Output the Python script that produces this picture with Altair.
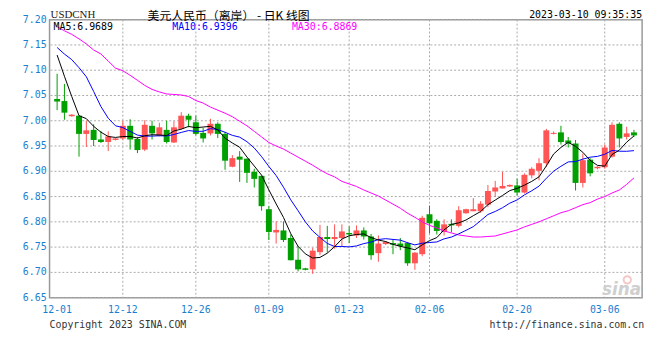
import altair as alt
import pandas as pd
import numpy as np

# ---- data ----
tick_labels = ["12-01", "12-12", "12-26", "01-09", "01-23", "02-06", "02-20", "03-06"]
tick_index = [0, 9, 19, 29, 40, 51, 63, 75]

opens = [7.043, 7.039, 7.009, 7.010, 6.974, 6.982, 6.963, 6.958, 6.962, 6.965,
         6.990, 6.964, 6.943, 6.990, 6.971, 6.982, 6.957, 6.984, 7.010, 6.997,
         6.976, 6.975, 6.994, 6.974, 6.909, 6.929, 6.925, 6.899, 6.891, 6.825,
         6.779, 6.783, 6.768, 6.725, 6.708, 6.706, 6.740, 6.770, 6.766, 6.768,
         6.778, 6.773, 6.783, 6.771, 6.738, 6.756, 6.758, 6.757, 6.758, 6.718,
         6.736, 6.815, 6.802, 6.780, 6.796, 6.792, 6.817, 6.821, 6.821, 6.834,
         6.860, 6.866, 6.870, 6.872, 6.858, 6.892, 6.901, 6.916, 6.974, 6.977,
         6.961, 6.955, 6.877, 6.923, 6.906, 6.908, 6.929, 6.994, 6.968, 6.977]
highs = [7.093, 7.073, 7.013, 7.010, 7.000, 6.993, 6.980, 6.979, 6.966, 7.000,
         7.003, 6.968, 7.001, 7.000, 6.996, 7.000, 6.999, 7.017, 7.014, 7.010,
         6.986, 7.004, 6.997, 6.978, 6.932, 6.940, 6.925, 6.905, 6.891, 6.831,
         6.801, 6.801, 6.775, 6.752, 6.709, 6.749, 6.794, 6.792, 6.795, 6.795,
         6.791, 6.793, 6.789, 6.776, 6.773, 6.762, 6.765, 6.768, 6.760, 6.740,
         6.812, 6.832, 6.805, 6.805, 6.805, 6.831, 6.826, 6.847, 6.841, 6.873,
         6.881, 6.899, 6.874, 6.885, 6.896, 6.908, 6.926, 6.984, 6.979, 6.990,
         6.968, 6.962, 6.935, 6.926, 6.910, 6.953, 6.997, 6.997, 6.988, 6.982]
lows = [7.021, 7.002, 7.008, 6.929, 6.948, 6.950, 6.956, 6.940, 6.961, 6.962,
        6.943, 6.936, 6.940, 6.963, 6.969, 6.955, 6.956, 6.982, 6.987, 6.971,
        6.957, 6.971, 6.966, 6.903, 6.908, 6.879, 6.877, 6.868, 6.822, 6.764,
        6.757, 6.760, 6.724, 6.702, 6.704, 6.697, 6.734, 6.739, 6.747, 6.752,
        6.758, 6.768, 6.765, 6.725, 6.721, 6.754, 6.736, 6.744, 6.713, 6.705,
        6.732, 6.777, 6.775, 6.773, 6.779, 6.789, 6.816, 6.821, 6.818, 6.829,
        6.849, 6.866, 6.869, 6.852, 6.856, 6.886, 6.882, 6.909, 6.973, 6.953,
        6.947, 6.862, 6.868, 6.890, 6.904, 6.905, 6.927, 6.947, 6.963, 6.968]
closes = [7.038, 7.016, 7.012, 6.974, 6.981, 6.962, 6.958, 6.969, 6.965, 6.990,
          6.963, 6.942, 6.992, 6.975, 6.987, 6.958, 6.987, 7.010, 7.002, 6.974,
          6.965, 6.994, 6.974, 6.921, 6.926, 6.923, 6.897, 6.885, 6.831, 6.780,
          6.784, 6.764, 6.724, 6.706, 6.705, 6.743, 6.770, 6.766, 6.770, 6.781,
          6.775, 6.783, 6.771, 6.734, 6.757, 6.760, 6.755, 6.752, 6.718, 6.739,
          6.808, 6.797, 6.782, 6.795, 6.793, 6.823, 6.825, 6.825, 6.836, 6.861,
          6.868, 6.871, 6.873, 6.858, 6.893, 6.905, 6.916, 6.981, 6.976, 6.958,
          6.955, 6.877, 6.922, 6.896, 6.909, 6.947, 6.992, 6.965, 6.975, 6.971]

# moving-average values at the left edge (sessions before the window are not shown)
ma5_head = [7.130, 7.088, 7.048, 7.010]
ma10_head = [7.145, 7.132, 7.121, 7.105, 7.087, 7.058, 7.028, 7.005, 6.990]
ma30 = [7.186, 7.178, 7.171, 7.162, 7.152, 7.140, 7.132, 7.118, 7.104, 7.099,
        7.090, 7.080, 7.070, 7.062, 7.057, 7.053, 7.052, 7.051, 7.048, 7.040,
        7.035, 7.027, 7.021, 7.015, 7.008, 6.999, 6.990, 6.979, 6.968, 6.957,
        6.950, 6.944, 6.936, 6.928, 6.920, 6.912, 6.903, 6.895, 6.889, 6.880,
        6.875, 6.870, 6.863, 6.857, 6.851, 6.843, 6.835, 6.827, 6.817, 6.809,
        6.800, 6.793, 6.788, 6.782, 6.778, 6.774, 6.772, 6.770, 6.770, 6.771,
        6.772, 6.776, 6.780, 6.784, 6.790, 6.795, 6.800, 6.806, 6.812, 6.818,
        6.822, 6.828, 6.834, 6.838, 6.845, 6.850, 6.857, 6.863, 6.874, 6.887]

y_ticks = [6.65, 6.70, 6.75, 6.80, 6.85, 6.90, 6.95, 7.00, 7.05, 7.10, 7.15, 7.20]
y_tick_labels = ["6.65", "6.70", "6.75", "6.80", "6.85", "6.90",
                 "6.95", "7.00", "7.05", "7.10", "7.15", "7.20"]

# ---- tables ----
n = len(closes)
df = pd.DataFrame({"i": np.arange(n), "open": opens, "high": highs,
                   "low": lows, "close": closes})
df["dir"] = np.where(df["close"] >= df["open"], "up", "down")

s = pd.Series(closes)
ma5 = s.rolling(5).mean().to_numpy()
ma5[:len(ma5_head)] = ma5_head
ma10 = s.rolling(10).mean().to_numpy()
ma10[:len(ma10_head)] = ma10_head

ma_df = pd.DataFrame({"i": np.arange(n), "ma5": ma5, "ma10": ma10, "ma30": ma30})
ticks = pd.DataFrame({"i": tick_index, "t": tick_labels})
yt = pd.DataFrame({"v": y_ticks, "t": y_tick_labels})

RED, GREEN = "#ff5555", "#00a000"
BLUE_TXT = "#1a7fd0"
MONO = "DejaVu Sans Mono"
GRID = "#aaaaaa"

xs = alt.Scale(domain=[-0.36, 79.44], nice=False, zero=False)
ys = alt.Scale(domain=[6.65, 7.20], nice=False, zero=False)
col = alt.Color("dir:N", scale=alt.Scale(domain=["up", "down"], range=[RED, GREEN]), legend=None)
X = alt.X("i:Q", scale=xs, axis=None)

grid_v = alt.Chart(ticks.iloc[1:]).mark_rule(color=GRID, strokeDash=[2, 2], strokeWidth=1).encode(x=X)
grid_h = alt.Chart(yt).mark_rule(color=GRID, strokeDash=[2, 2], strokeWidth=1).encode(
    y=alt.Y("v:Q", scale=ys, axis=None))
ylab = alt.Chart(yt).mark_text(font=MONO, fontSize=10, color=BLUE_TXT, align="right",
                               baseline="middle").encode(
    x=alt.value(-3), y=alt.Y("v:Q", scale=ys, axis=None), text="t:N")

wick = alt.Chart(df).mark_rule(strokeWidth=1).encode(
    x=X, y=alt.Y("low:Q", scale=ys, axis=None), y2="high:Q", color=col)

body = alt.Chart(df).mark_bar(size=6).encode(
    x=X, y=alt.Y("open:Q", scale=ys, axis=None), y2="close:Q", color=col)


def ma_line(field, colour):
    return alt.Chart(ma_df).mark_line(strokeWidth=1, color=colour).encode(
        x=X, y=alt.Y(f"{field}:Q", scale=ys, axis=None))


xlab = alt.Chart(ticks).mark_text(font=MONO, fontSize=10, color=BLUE_TXT, baseline="middle").encode(
    x=X, y=alt.value(294), text="t:N")


def label(text, x, y, **kw):
    return alt.Chart(pd.DataFrame({"t": [text]})).mark_text(baseline="middle", **kw).encode(
        x=alt.value(x), y=alt.value(y), text="t:N")


# faint watermark eye above the "sina" word
eye = alt.Chart(pd.DataFrame({"t": ["eye"]})).mark_point(
    shape="circle", size=55, filled=False, strokeWidth=2, color="#f2b0b0").encode(
    x=alt.value(584), y=alt.value(263))

texts = [
    label("USDCNH", 1, -5, align="left", font="Liberation Serif", fontSize=11, color="#222222"),
    label("美元人民币（离岸） - 日K 线图", 181, -4, align="center", font="Noto Sans CJK SC",
          fontSize=12, color="#000000"),
    label("2023-03-10 09:35:35", 599, -5, align="right", font=MONO, fontSize=10, color="#000000"),
    label("MA5:6.9689", 4, 7, align="left", font=MONO, fontSize=10, color="#000000"),
    label("MA10:6.9396", 124, 7, align="left", font=MONO, fontSize=10, color="#0000ff"),
    label("MA30:6.8869", 245, 7, align="left", font=MONO, fontSize=10, color="#ff00ff"),
    label("Copyright 2023 SINA.COM", 0, 309, align="left", font=MONO, fontSize=10, color="#333333"),
    label("http://finance.sina.com.cn", 601, 309, align="right", font=MONO, fontSize=10, color="#333333"),
    label("sina", 598, 273, align="right", font="DejaVu Sans", fontSize=17, fontStyle="italic",
          fontWeight="bold", color="#cfcfcf"),
]

chart = alt.layer(
    grid_h, grid_v, ylab, eye, wick, body,
    ma_line("ma30", "#ff00ff"), ma_line("ma10", "#0000ff"), ma_line("ma5", "#000000"),
    xlab, *texts
).properties(
    width=599, height=281,
    padding={"left": 42, "top": 10, "right": 10, "bottom": 40},
    autosize=alt.AutoSizeParams(type="none"),
).configure_view(stroke="#999999", strokeWidth=1.5)

chart.save("out.html", embed_options={"renderer": "svg", "actions": False})
